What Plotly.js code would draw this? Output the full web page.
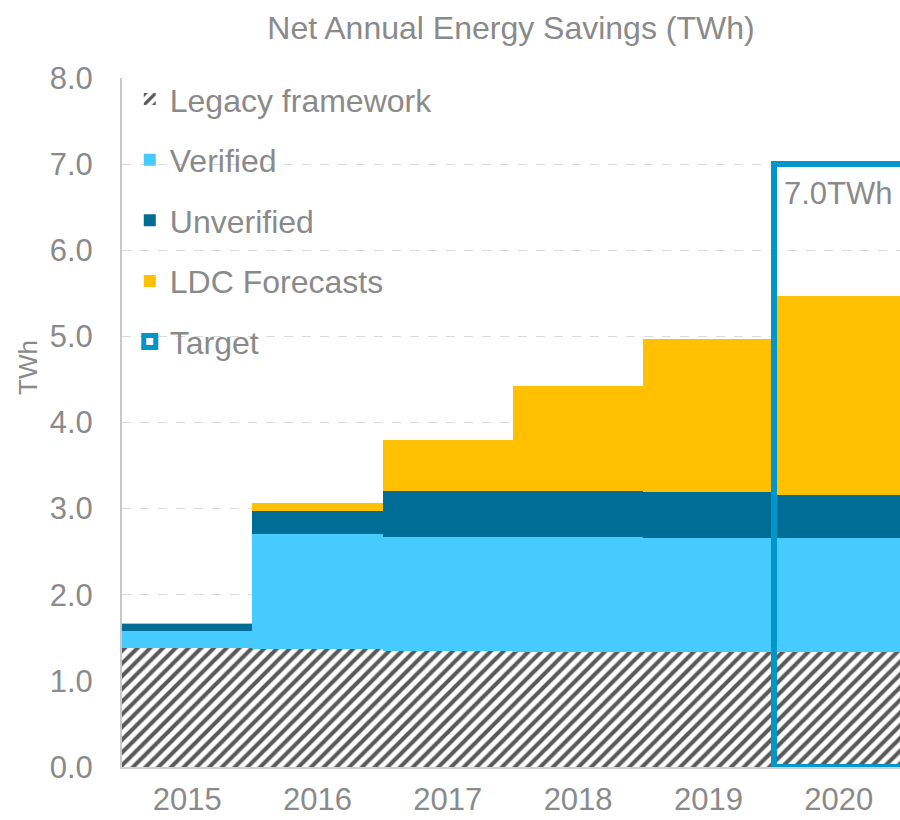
<!DOCTYPE html>
<html>
<head>
<meta charset="utf-8">
<script src="https://cdn.plot.ly/plotly-3.0.1.min.js"></script>
<style>html,body{margin:0;padding:0;background:#fff;}#chart{width:900px;height:820px;}</style>
</head>
<body>
<div id="chart"></div>
<script>
const years = ['2015', '2016', '2017', '2018', '2019', '2020'];
const legacy = [1.38, 1.37, 1.35, 1.34, 1.34, 1.33];
const verified = [0.20, 1.34, 1.32, 1.33, 1.32, 1.33];
const unverified = [0.08, 0.26, 0.53, 0.54, 0.53, 0.50];
const ldcForecasts = [0.01, 0.10, 0.60, 1.21, 1.78, 2.31];
const target = [null, null, null, null, null, 7.0];
const targetLabel = '7.0TWh';
const yTicks = [0, 1, 2, 3, 4, 5, 6, 7, 8];

const gray = '#8a8a8a';
const fontFamily = 'Liberation Sans, Arial, sans-serif';

const traces = [
  {type: 'bar', name: 'Legacy framework', x: years, y: legacy, legendgroup: 'a',
   marker: {color: '#ffffff', pattern: {shape: '/', fgcolor: '#595959', bgcolor: '#ffffff', size: 9, solidity: 0.45}, line: {width: 0}}},
  {type: 'bar', name: 'Verified', x: years, y: verified, legendgroup: 'b',
   marker: {color: '#46CBFF', line: {width: 0}}},
  {type: 'bar', name: 'Unverified', x: years, y: unverified, legendgroup: 'c',
   marker: {color: '#006D96', line: {width: 0}}},
  {type: 'bar', name: 'LDC Forecasts', x: years, y: ldcForecasts, legendgroup: 'd',
   marker: {color: '#FFC000', line: {width: 0}}},
  {type: 'bar', name: 'Target', x: years, y: target, xaxis: 'x2', yaxis: 'y', legendgroup: 'e',
   marker: {color: 'rgba(0,0,0,0)', line: {color: '#0096CC', width: 6}}}
];

const xRange = [-0.5, 5.47];
const targetIdx = target.findIndex(v => v !== null);

const layout = {
  width: 900, height: 820,
  margin: {l: 122, r: 0, t: 78, b: 53},
  paper_bgcolor: '#ffffff', plot_bgcolor: '#ffffff',
  font: {family: fontFamily, color: gray, size: 31},
  title: {text: 'Net Annual Energy Savings (TWh)', font: {size: 32, color: gray}, x: 511 / 900, xref: 'container', xanchor: 'center', y: 0.966, yref: 'container', yanchor: 'middle'},
  barmode: 'stack', bargap: 0,
  showlegend: true,
  legend: {x: 0.01, y: 1.009, xanchor: 'left', yanchor: 'top', traceorder: 'grouped', tracegroupgap: 16,
           bgcolor: 'rgba(0,0,0,0)', font: {size: 32, color: gray}},
  xaxis: {type: 'category', range: xRange, showgrid: false, showline: true, linecolor: '#d0d0d0', linewidth: 2,
          ticks: '', tickfont: {size: 31, color: gray}, ticklabelstandoff: 4, fixedrange: true},
  xaxis2: {type: 'category', overlaying: 'x', range: xRange, visible: false, matches: 'x'},
  yaxis: {range: [0, 8], tickvals: yTicks, tickformat: '.1f', showgrid: true, gridcolor: '#d9d9d9', griddash: 'dash', gridwidth: 1,
          showline: true, linecolor: '#c8c8c8', linewidth: 2, zeroline: false, ticks: '', tickfont: {size: 31, color: gray}, ticklabelstandoff: 21},
  annotations: [
    {x: targetIdx, y: target[targetIdx], xref: 'x', yref: 'y', text: targetLabel, showarrow: false,
     xanchor: 'center', yanchor: 'top', yshift: -10, font: {size: 31, color: gray}},
    {x: (28 - 122) / 778, y: (767 - 368) / 689, xref: 'paper', yref: 'paper', xanchor: 'center', yanchor: 'middle',
     text: 'TWh', showarrow: false, textangle: -90, font: {size: 26, color: gray}}
  ]
};

Plotly.newPlot('chart', traces, layout, {displayModeBar: false, staticPlot: true});
</script>
</body>
</html>
